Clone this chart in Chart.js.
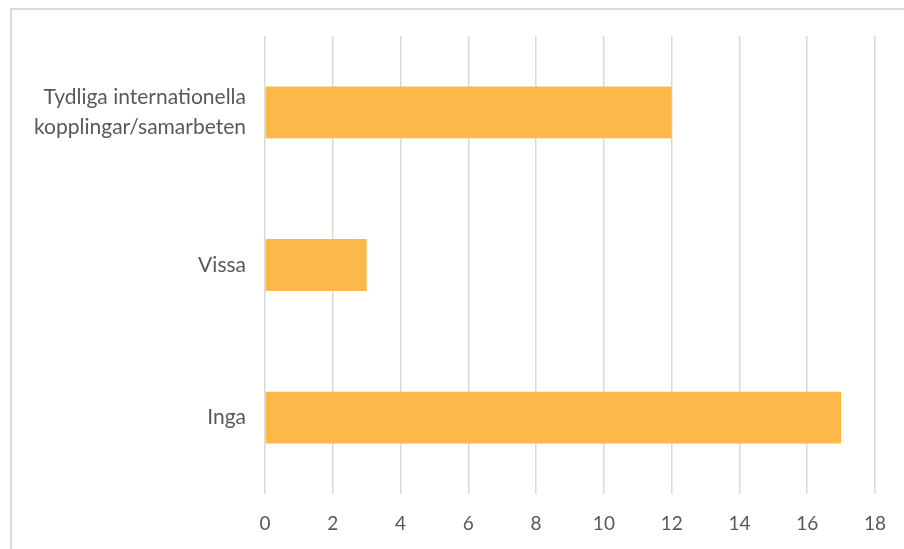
<!DOCTYPE html>
<html>
<head>
<meta charset="utf-8">
<script src="https://cdn.jsdelivr.net/npm/chart.js@4/dist/chart.umd.min.js"></script>
<style>
  html, body { margin: 0; padding: 0; background: #fff; overflow: hidden; width: 904px; height: 549px; }
  #frame { position: absolute; left: 10px; top: 8px; width: 920px; height: 570px; border: 2px solid #d9d9d9; box-sizing: border-box; }
  #myChart { position: absolute; left: 0; top: 0; }
</style>
</head>
<body>
<div id="frame"></div>
<canvas id="myChart" width="904" height="549"></canvas>
<script>
  const categories = [
    ['Tydliga internationella', 'kopplingar/samarbeten'],
    'Vissa',
    'Inga'
  ]
  const counts = [12, 3, 17]
  const xTicks = [0, 2, 4, 6, 8, 10, 12, 14, 16, 18]

  const ctx = document.getElementById('myChart')
  new Chart(ctx, {
    type: 'bar',
    data: {
      labels: categories,
      datasets: [{
        data: counts,
        backgroundColor: '#FDB84A',
        categoryPercentage: 1,
        barPercentage: 0.34
      }]
    },
    options: {
      indexAxis: 'y',
      responsive: false,
      animation: false,
      layout: { padding: { top: 36, right: 28, left: 0, bottom: 0 } },
      plugins: {
        legend: { display: false },
        tooltip: { enabled: false }
      },
      scales: {
        x: {
          min: 0,
          max: 18,
          afterBuildTicks: (scale) => { scale.ticks = xTicks.map(v => ({ value: v })) },
          afterFit: (scale) => { scale.height = 55 },
          grid: { color: '#d9d9d9', lineWidth: 1.5, drawTicks: false },
          border: { display: false },
          ticks: {
            padding: 18,
            color: '#595959',
            font: { family: 'Lato', size: 19 }
          }
        },
        y: {
          afterFit: (scale) => { scale.width = 265 },
          grid: { display: false, drawTicks: false },
          border: { display: false },
          ticks: {
            padding: 19,
            color: '#595959',
            font: { family: 'Lato', size: 21, lineHeight: 1.4 }
          }
        }
      }
    }
  })
</script>
</body>
</html>
